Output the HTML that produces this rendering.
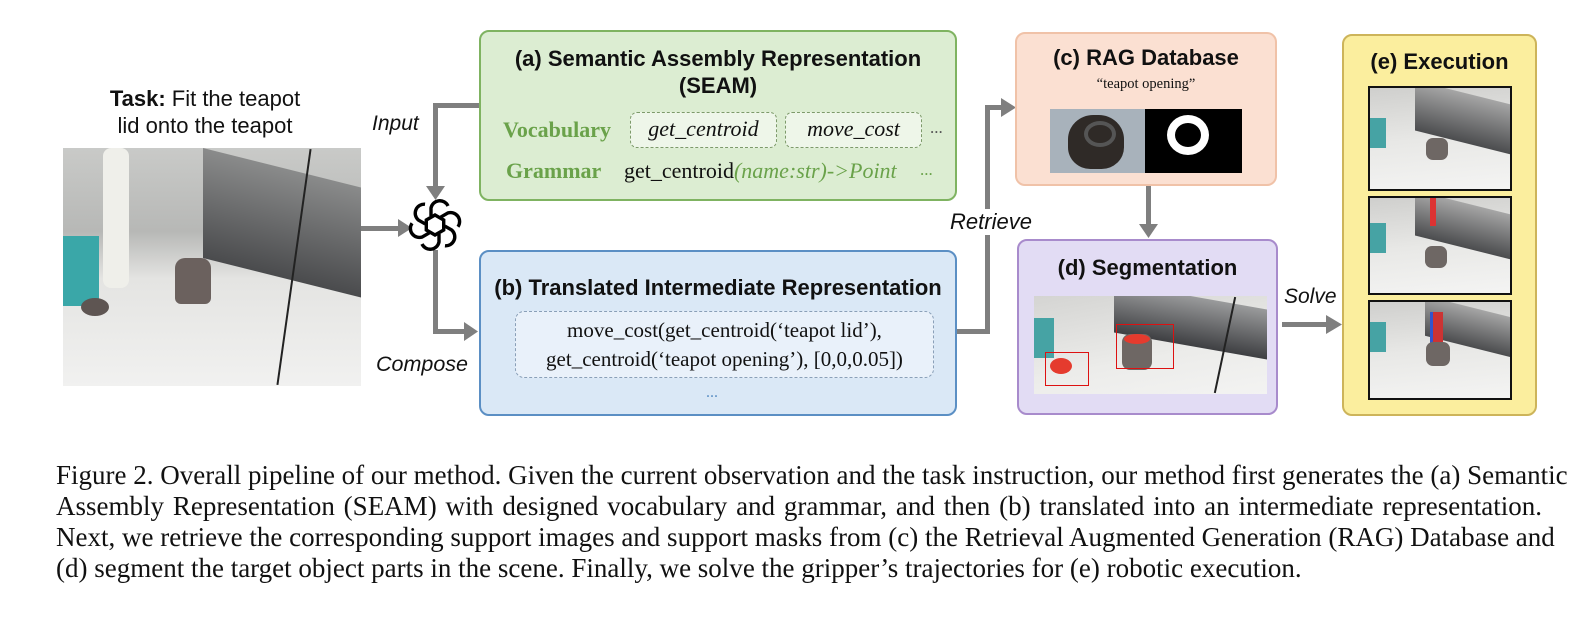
<!DOCTYPE html>
<html><head><meta charset="utf-8"><style>
body{margin:0;width:1594px;height:622px;background:#fff;position:relative;overflow:hidden;font-family:"Liberation Sans",sans-serif}
.a{position:absolute}
.box{position:absolute;border-radius:10px;box-sizing:border-box}
.t{position:absolute;font-weight:bold;font-size:22px;text-align:center;line-height:27px;color:#111;white-space:nowrap}
.ser{font-family:"Liberation Serif",serif;white-space:nowrap}
.cap{position:absolute;left:56px;width:1486px;font-family:"Liberation Serif",serif;font-size:27px;color:#111;text-align:justify;text-align-last:justify;white-space:nowrap;line-height:31px}
.ln{background:#7f7f7f;position:absolute}
.photo{position:absolute;overflow:hidden}
</style></head><body>

<!-- task -->
<div class="a" style="left:55px;top:85px;width:300px;text-align:center;font-size:22px;line-height:27px;color:#111"><b>Task:</b> Fit the teapot<br>lid onto the teapot</div>
<div class="photo" style="left:63px;top:148px;width:298px;height:238px;background:linear-gradient(180deg,#c9cac8 0%,#b7b8b6 35%,#e4e4e2 55%,#f1f1f0 100%)">
 <div class="a" style="left:140px;top:20px;width:160px;height:110px;background:linear-gradient(180deg,#8a8b8b,#4a4b4d);transform:skewY(14deg)"></div>
 <div class="a" style="left:40px;top:0;width:26px;height:140px;background:#efefea;border-radius:8px"></div>
 <div class="a" style="left:0;top:88px;width:36px;height:70px;background:#3aa7a8"></div>
 <div class="a" style="left:112px;top:110px;width:36px;height:46px;background:#6b615e;border-radius:10px 10px 6px 6px"></div>
 <div class="a" style="left:18px;top:150px;width:28px;height:18px;background:#5e5552;border-radius:50%"></div>
 <div class="a" style="left:230px;top:0;width:2px;height:238px;background:#222;transform:rotate(8deg)"></div>
</div>

<!-- connectors left -->
<div class="ln" style="left:361px;top:226px;width:40px;height:5px"></div>
<svg class="a" style="left:398px;top:219px" width="14" height="18"><polygon points="0,0 14,9 0,18" fill="#7f7f7f"/></svg>
<div class="ln" style="left:433px;top:103px;width:5px;height:86px"></div>
<div class="ln" style="left:433px;top:103px;width:46px;height:5px"></div>
<svg class="a" style="left:426px;top:186px" width="19" height="14"><polygon points="0,0 19,0 9.5,14" fill="#7f7f7f"/></svg>
<div class="ln" style="left:433px;top:250px;width:5px;height:84px"></div>
<div class="ln" style="left:433px;top:329px;width:33px;height:5px"></div>
<svg class="a" style="left:464px;top:322px" width="14" height="19"><polygon points="0,0 14,9.5 0,19" fill="#7f7f7f"/></svg>
<!-- logo -->
<svg class="a" style="left:408px;top:198px" width="54" height="54" viewBox="-27 -27 54 54">
 <g fill="none" stroke="#000" stroke-width="3.4">
  <g transform="rotate(0)"><path d="M-4,-9 L-4,-17 A9,9 0 0 1 13,-19"/></g>
  <g transform="rotate(60)"><path d="M-4,-9 L-4,-17 A9,9 0 0 1 13,-19"/></g>
  <g transform="rotate(120)"><path d="M-4,-9 L-4,-17 A9,9 0 0 1 13,-19"/></g>
  <g transform="rotate(180)"><path d="M-4,-9 L-4,-17 A9,9 0 0 1 13,-19"/></g>
  <g transform="rotate(240)"><path d="M-4,-9 L-4,-17 A9,9 0 0 1 13,-19"/></g>
  <g transform="rotate(300)"><path d="M-4,-9 L-4,-17 A9,9 0 0 1 13,-19"/></g>
  <polygon points="0,-10 8.7,-5 8.7,5 0,10 -8.7,5 -8.7,-5"/>
 </g>
</svg>
<div class="a" style="left:372px;top:112px;font-size:21px;font-style:italic;color:#111">Input</div>
<div class="a" style="left:376px;top:352px;font-size:21.5px;font-style:italic;color:#111">Compose</div>

<!-- (a) -->
<div class="box" style="left:479px;top:30px;width:478px;height:171px;background:#dcedd2;border:2px solid #7fb361"></div>
<div class="t" style="left:479px;top:45px;width:478px">(a) Semantic Assembly Representation<br>(SEAM)</div>
<div class="a ser" style="left:503px;top:117px;font-size:22px;font-weight:bold;color:#6aa24a">Vocabulary</div>
<div class="box" style="left:630px;top:112px;width:147px;height:36px;border:1.5px dashed #7d9a6a;border-radius:7px;background:#eef6e9"></div>
<div class="a ser" style="left:630px;top:116px;width:147px;text-align:center;font-size:22px;font-style:italic;color:#111">get_centroid</div>
<div class="box" style="left:785px;top:112px;width:137px;height:36px;border:1.5px dashed #7d9a6a;border-radius:7px;background:#eef6e9"></div>
<div class="a ser" style="left:785px;top:116px;width:137px;text-align:center;font-size:22px;font-style:italic;color:#111">move_cost</div>
<div class="a ser" style="left:930px;top:118px;font-size:17px;color:#555">...</div>
<div class="a ser" style="left:506px;top:158px;font-size:22px;font-weight:bold;color:#6aa24a">Grammar</div>
<div class="a ser" style="left:624px;top:158px;font-size:22px;color:#111">get_centroid<i style="color:#6aa24a">(name:str)-&gt;Point</i></div>
<div class="a ser" style="left:920px;top:160px;font-size:17px;color:#6aa24a">...</div>

<!-- (b) -->
<div class="box" style="left:479px;top:250px;width:478px;height:166px;background:#dae8f6;border:2px solid #5b8fc4"></div>
<div class="t" style="left:479px;top:274px;width:478px">(b) Translated Intermediate Representation</div>
<div class="box" style="left:515px;top:311px;width:419px;height:67px;border:1.5px dashed #8aa0b8;border-radius:9px;background:#e9f1fa"></div>
<div class="a ser" style="left:515px;top:316px;width:419px;text-align:center;font-size:21px;line-height:29px;color:#111">move_cost(get_centroid(‘teapot lid’),<br>get_centroid(‘teapot opening’), [0,0,0.05])</div>
<div class="a ser" style="left:706px;top:384px;font-size:16px;color:#5b8fc4">...</div>

<!-- retrieve -->
<div class="ln" style="left:957px;top:329px;width:33px;height:5px"></div>
<div class="ln" style="left:985px;top:105px;width:5px;height:229px"></div>
<div class="ln" style="left:985px;top:105px;width:18px;height:5px"></div>
<svg class="a" style="left:1001px;top:98px" width="15" height="19"><polygon points="0,0 15,9.5 0,19" fill="#7f7f7f"/></svg>
<div class="a" style="left:942px;top:209px;width:98px;text-align:center;font-size:22px;font-style:italic;color:#111;background:#fff">Retrieve</div>

<!-- (c) -->
<div class="box" style="left:1015px;top:32px;width:262px;height:154px;background:#fbe0d2;border:2px solid #f0c2a8"></div>
<div class="t" style="left:1015px;top:44px;width:262px">(c) RAG Database</div>
<div class="a ser" style="left:1015px;top:76px;width:262px;text-align:center;font-size:14.5px;color:#111">“teapot opening”</div>
<div class="photo" style="left:1050px;top:109px;width:95px;height:64px;background:#a8b2bb">
 <div class="a" style="left:18px;top:6px;width:56px;height:54px;background:#2f2a27;border-radius:45% 45% 40% 40%"></div>
 <div class="a" style="left:34px;top:12px;width:24px;height:18px;border:4px solid #555;border-radius:50%"></div>
</div>
<div class="photo" style="left:1145px;top:109px;width:97px;height:64px;background:#000">
 <div class="a" style="left:22px;top:6px;width:26px;height:24px;border:8px solid #fff;border-radius:50%"></div>
</div>
<div class="ln" style="left:1146px;top:186px;width:5px;height:40px"></div>
<svg class="a" style="left:1139px;top:224px" width="19" height="14"><polygon points="0,0 19,0 9.5,14" fill="#7f7f7f"/></svg>

<!-- (d) -->
<div class="box" style="left:1017px;top:239px;width:261px;height:176px;background:#e2dcf4;border:2px solid #a88bcc"></div>
<div class="t" style="left:1017px;top:254px;width:261px">(d) Segmentation</div>
<div class="photo" style="left:1034px;top:296px;width:233px;height:98px;background:linear-gradient(170deg,#d4d4d2 0%,#ececea 60%,#f3f3f2 100%)">
 <div class="a" style="left:80px;top:0;width:153px;height:50px;background:linear-gradient(180deg,#9a9b9c,#3e3f42);transform:skewY(10deg)"></div>
 <div class="a" style="left:0;top:22px;width:20px;height:40px;background:#46a3a4"></div>
 <div class="a" style="left:88px;top:38px;width:30px;height:36px;background:#6e6764;border-radius:8px"></div>
 <div class="a" style="left:90px;top:38px;width:26px;height:10px;background:#e53b2e;border-radius:50%"></div>
 <div class="a" style="left:16px;top:62px;width:22px;height:16px;background:#e53b2e;border-radius:50%"></div>
 <div class="a" style="left:82px;top:28px;width:58px;height:45px;border:1.5px solid #d11;box-sizing:border-box"></div>
 <div class="a" style="left:11px;top:56px;width:44px;height:34px;border:1.5px solid #d11;box-sizing:border-box"></div>
 <div class="a" style="left:190px;top:0;width:2px;height:98px;background:#222;transform:rotate(12deg)"></div>
</div>

<!-- solve -->
<div class="a" style="left:1284px;top:285px;font-size:21px;font-style:italic;color:#111">Solve</div>
<div class="ln" style="left:1282px;top:322px;width:46px;height:5px"></div>
<svg class="a" style="left:1326px;top:315px" width="16" height="19"><polygon points="0,0 16,9.5 0,19" fill="#7f7f7f"/></svg>

<!-- (e) -->
<div class="box" style="left:1342px;top:34px;width:195px;height:382px;background:#fbee9e;border:2px solid #cdb45a"></div>
<div class="t" style="left:1342px;top:48px;width:195px">(e) Execution</div>
<div class="photo" style="left:1368px;top:86px;width:144px;height:105px;border:2px solid #111;box-sizing:border-box;background:linear-gradient(175deg,#cfcfcd 0%,#e8e8e6 50%,#f4f4f3 100%)">
 <div class="a" style="left:45px;top:5px;width:100px;height:50px;background:linear-gradient(180deg,#a6a6a6,#4b4c4e);transform:skewY(14deg)"></div>
 <div class="a" style="left:0;top:30px;width:16px;height:30px;background:#46a3a4"></div>
 <div class="a" style="left:56px;top:50px;width:22px;height:22px;background:#6e6764;border-radius:7px"></div>
</div>
<div class="photo" style="left:1368px;top:196px;width:144px;height:99px;border:2px solid #111;box-sizing:border-box;background:linear-gradient(175deg,#cfcfcd 0%,#e8e8e6 50%,#f4f4f3 100%)">
 <div class="a" style="left:45px;top:5px;width:100px;height:45px;background:linear-gradient(180deg,#a6a6a6,#4b4c4e);transform:skewY(14deg)"></div>
 <div class="a" style="left:0;top:25px;width:16px;height:30px;background:#46a3a4"></div>
 <div class="a" style="left:60px;top:0;width:6px;height:28px;background:#d33"></div>
 <div class="a" style="left:55px;top:48px;width:22px;height:22px;background:#6e6764;border-radius:7px"></div>
</div>
<div class="photo" style="left:1368px;top:300px;width:144px;height:100px;border:2px solid #111;box-sizing:border-box;background:linear-gradient(175deg,#cfcfcd 0%,#e8e8e6 50%,#f4f4f3 100%)">
 <div class="a" style="left:55px;top:5px;width:90px;height:40px;background:linear-gradient(180deg,#a6a6a6,#4b4c4e);transform:skewY(14deg)"></div>
 <div class="a" style="left:0;top:20px;width:16px;height:30px;background:#46a3a4"></div>
 <div class="a" style="left:60px;top:10px;width:10px;height:34px;background:#c33;border-left:3px solid #35c"></div>
 <div class="a" style="left:56px;top:40px;width:24px;height:24px;background:#6e6764;border-radius:7px"></div>
</div>

<!-- caption -->
<div class="cap" style="top:460px">Figure 2. Overall pipeline of our method. Given the current observation and the task instruction, our method first generates the (a) Semantic</div>
<div class="cap" style="top:491px">Assembly Representation (SEAM) with designed vocabulary and grammar, and then (b) translated into an intermediate representation.</div>
<div class="cap" style="top:522px">Next, we retrieve the corresponding support images and support masks from (c) the Retrieval Augmented Generation (RAG) Database and</div>
<div class="cap" style="top:553px;text-align-last:left">(d) segment the target object parts in the scene. Finally, we solve the gripper’s trajectories for (e) robotic execution.</div>
</body></html>
